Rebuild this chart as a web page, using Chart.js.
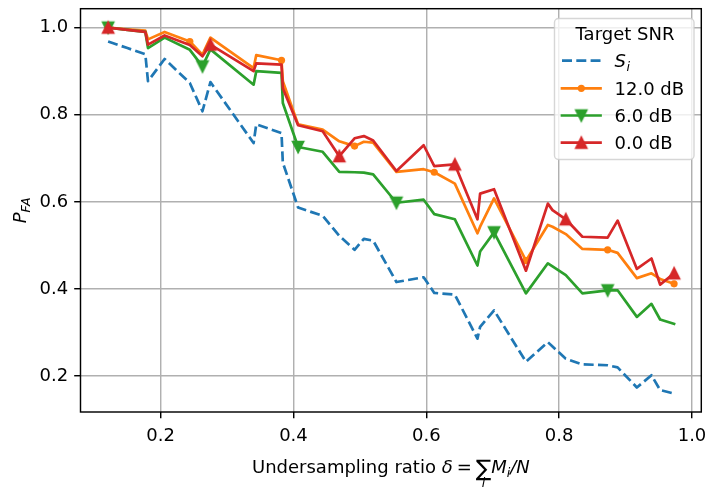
<!DOCTYPE html>
<html>
<head>
<meta charset="utf-8">
<script src="https://cdn.jsdelivr.net/npm/chart.js@4.4.1/dist/chart.umd.min.js"></script>
<style>
  html, body { margin: 0; padding: 0; background: #fff; }
</style>
</head>
<body>
<canvas id="pfaChart" width="710" height="488"></canvas>
<script>
// ── Dados ──────────────────────────────────────────────
const delta = [0.121, 0.150, 0.177, 0.181, 0.206, 0.244, 0.263, 0.275, 0.340, 0.344, 0.382, 0.384,
               0.407, 0.444, 0.469, 0.492, 0.506, 0.520, 0.555, 0.596, 0.612, 0.643, 0.677, 0.681,
               0.702, 0.750, 0.783, 0.790, 0.810, 0.835, 0.873, 0.888, 0.917, 0.939, 0.952, 0.973];
const pfaSi = [0.968, 0.953, 0.939, 0.877, 0.928, 0.873, 0.808, 0.875, 0.735, 0.778, 0.758, 0.690,
               0.587, 0.568, 0.522, 0.490, 0.515, 0.511, 0.416, 0.427, 0.391, 0.387, 0.286, 0.313,
               0.351, 0.233, 0.278, 0.268, 0.240, 0.227, 0.225, 0.220, 0.174, 0.202, 0.168, 0.160];
const pfa12 = [1.000, 0.996, 0.993, 0.973, 0.990, 0.968, 0.938, 0.977, 0.907, 0.937, 0.925, 0.877,
               0.778, 0.766, 0.739, 0.728, 0.738, 0.736, 0.669, 0.675, 0.668, 0.642, 0.528, 0.543,
               0.608, 0.465, 0.547, 0.543, 0.526, 0.492, 0.490, 0.483, 0.425, 0.436, 0.423, 0.412];
const pfa6  = [1.000, 0.995, 0.990, 0.953, 0.977, 0.949, 0.911, 0.950, 0.869, 0.900, 0.896, 0.827,
               0.726, 0.715, 0.669, 0.668, 0.667, 0.663, 0.598, 0.605, 0.572, 0.560, 0.454, 0.486,
               0.530, 0.390, 0.459, 0.452, 0.432, 0.390, 0.397, 0.397, 0.336, 0.366, 0.330, 0.320];
const pfa0  = [1.000, 0.995, 0.990, 0.961, 0.982, 0.960, 0.934, 0.961, 0.900, 0.918, 0.915, 0.861,
               0.776, 0.762, 0.705, 0.746, 0.751, 0.741, 0.671, 0.730, 0.682, 0.686, 0.560, 0.619,
               0.629, 0.442, 0.596, 0.581, 0.560, 0.520, 0.518, 0.557, 0.446, 0.470, 0.410, 0.436];
const snrLabels = ['12.0 dB', '6.0 dB', '0.0 dB'];
const xTicks = [0.2, 0.4, 0.6, 0.8, 1.0];
const yTicks = [0.2, 0.4, 0.6, 0.8, 1.0];

const FS = 18;
const FAM = '"DejaVu Sans", sans-serif';
const fN = s => `${s}px ${FAM}`;
const fI = s => `italic ${s}px ${FAM}`;
const C = { blue:'#1f77b4', orange:'#ff7f0e', green:'#2ca02c', red:'#d62728' };

// triângulos no estilo do matplotlib (largura = altura)
function triImg(color, down) {
  const s = 18, c = document.createElement('canvas');
  c.width = s; c.height = s;
  const g = c.getContext('2d'), m = s / 2, h = 5.4;
  g.beginPath();
  if (down) { g.moveTo(m, m + h); g.lineTo(m - h, m - h); g.lineTo(m + h, m - h); }
  else      { g.moveTo(m, m - h); g.lineTo(m - h, m + h); g.lineTo(m + h, m + h); }
  g.closePath();
  g.fillStyle = color; g.fill();
  g.lineWidth = 1.8; g.lineJoin = 'miter'; g.strokeStyle = color; g.stroke();
  return c;
}
const triDown = triImg(C.green, true);
const triUp   = triImg(C.red, false);

const pts = ys => delta.map((x, i) => ({ x, y: ys[i] }));
const every = (n, r) => ctx => ctx.dataIndex % n === 0 ? r : 0;

// ── Legenda, moldura e títulos dos eixos ───────────────
function drawLegend(ctx, chart) {
  const x0 = 554.5, y0 = 18.5, w = 139.5, h = 141, r = 4;
  ctx.beginPath();
  ctx.moveTo(x0 + r, y0); ctx.arcTo(x0 + w, y0, x0 + w, y0 + h, r);
  ctx.arcTo(x0 + w, y0 + h, x0, y0 + h, r); ctx.arcTo(x0, y0 + h, x0, y0, r);
  ctx.arcTo(x0, y0, x0 + w, y0, r); ctx.closePath();
  ctx.fillStyle = 'rgba(255,255,255,0.8)'; ctx.fill();
  ctx.lineWidth = 1.4; ctx.strokeStyle = 'rgba(204,204,204,0.8)'; ctx.stroke();

  ctx.fillStyle = '#000'; ctx.textAlign = 'center'; ctx.textBaseline = 'alphabetic';
  ctx.font = fN(FS); ctx.fillText('Target SNR', 625, 39.5);

  const rows = [60.7, 88.3, 115.5, 142.7];
  const ds = chart.data.datasets;
  rows.forEach((ry, i) => {
    const d = ds[i];
    ctx.save();
    ctx.beginPath(); ctx.setLineDash(d.borderDash || []);
    ctx.lineWidth = d.borderWidth; ctx.strokeStyle = d.borderColor; ctx.lineCap = d.borderCapStyle;
    ctx.moveTo(562, ry); ctx.lineTo(600.5, ry); ctx.stroke();
    ctx.restore();
    if (i === 1) { ctx.beginPath(); ctx.arc(581.3, ry, 3.6, 0, Math.PI * 2); ctx.fillStyle = C.orange; ctx.fill(); }
    if (i === 2) ctx.drawImage(triDown, 581.3 - 9, ry - 9);
    if (i === 3) ctx.drawImage(triUp, 581.3 - 9, ry - 9);
    ctx.fillStyle = '#000'; ctx.textAlign = 'left';
    if (i === 0) {
      ctx.font = fI(FS); ctx.fillText('S', 614.5, ry + 6.5);
      const sw = ctx.measureText('S').width;
      ctx.font = fI(12.6); ctx.fillText('i', 614.5 + sw + 0.5, ry + 10.5);
    } else {
      ctx.font = fN(FS); ctx.fillText(snrLabels[i - 1], 614.5, ry + 6.5);
    }
  });
}

function drawTitles(ctx, chart) {
  const a = chart.chartArea;
  ctx.fillStyle = '#000'; ctx.textAlign = 'left'; ctx.textBaseline = 'alphabetic';
  // eixo x: Undersampling ratio δ = Σ_i M_i / N
  const base = 473;
  const parts = [
    { t: 'Undersampling ratio ', f: fN(FS) },
    { t: 'δ', f: fI(FS) },
    { gap: 4 }, { t: '=', f: fN(FS) }, { gap: 4 },
    { t: '∑', f: fN(23), sum: true, dy: 3 },
    { t: 'M', f: fI(FS) },
    { t: 'i', f: fI(12.6), dy: 4 },
    { t: '/N', f: fI(FS) },
  ];
  let total = 0;
  parts.forEach(p => { if (p.gap) { p.w = p.gap; } else { ctx.font = p.f; p.w = ctx.measureText(p.t).width; } total += p.w; });
  let x = (a.left + a.right) / 2 - total / 2;
  parts.forEach(p => {
    if (!p.gap) {
      ctx.font = p.f; ctx.fillText(p.t, x, base + (p.dy || 0));
      if (p.sum) { ctx.font = fI(12.6); ctx.textAlign = 'center'; ctx.fillText('i', x + p.w / 2, base + 14); ctx.textAlign = 'left'; }
    }
    x += p.w;
  });
  // eixo y: P_FA
  ctx.save();
  ctx.translate(26, (a.top + a.bottom) / 2);
  ctx.rotate(-Math.PI / 2);
  ctx.font = fI(FS); const pw = ctx.measureText('P').width;
  ctx.font = fI(12.6); const fw = ctx.measureText('FA').width;
  const sx = -(pw + fw) / 2;
  ctx.font = fI(FS); ctx.fillText('P', sx, 0);
  ctx.font = fI(12.6); ctx.fillText('FA', sx + pw, 4);
  ctx.restore();
}

const decor = {
  id: 'decor',
  afterDatasetsDraw(chart) {
    const { ctx, chartArea: a } = chart;
    ctx.save();
    ctx.lineWidth = 1.44; ctx.strokeStyle = '#000';
    ctx.strokeRect(a.left, a.top, a.right - a.left, a.bottom - a.top);
    drawLegend(ctx, chart);
    drawTitles(ctx, chart);
    ctx.restore();
  }
};

const tickFmt = v => Number(v).toFixed(1);
const noPad = s => { s.paddingTop = 0; s.paddingBottom = 0; s.paddingLeft = 0; s.paddingRight = 0; };

new Chart(document.getElementById('pfaChart'), {
  type: 'line',
  data: {
    datasets: [
      { label: 'S_i', data: pts(pfaSi), order: 3, borderColor: C.blue, borderWidth: 2.7,
        borderDash: [10, 4.3], borderCapStyle: 'butt', borderJoinStyle: 'round', pointRadius: 0 },
      { label: snrLabels[0], data: pts(pfa12), order: 2, borderColor: C.orange, borderWidth: 2.7,
        borderCapStyle: 'square', borderJoinStyle: 'round', pointStyle: 'circle',
        pointRadius: every(5, 3.6), pointBackgroundColor: C.orange, pointBorderWidth: 0 },
      { label: snrLabels[1], data: pts(pfa6), order: 1, borderColor: C.green, borderWidth: 2.7,
        borderCapStyle: 'square', borderJoinStyle: 'round', pointStyle: triDown,
        pointRadius: every(6, 6) },
      { label: snrLabels[2], data: pts(pfa0), order: 0, borderColor: C.red, borderWidth: 2.7,
        borderCapStyle: 'square', borderJoinStyle: 'round', pointStyle: triUp,
        pointRadius: every(7, 6) },
    ],
  },
  options: {
    responsive: false, animation: false, devicePixelRatio: 1,
    layout: { padding: { left: 0, right: 8, top: 7, bottom: 0 } },
    plugins: { legend: { display: false }, tooltip: { enabled: false } },
    scales: {
      x: {
        type: 'linear', min: 0.0794, max: 1.014,
        afterBuildTicks: s => { s.ticks = xTicks.map(v => ({ value: v })); },
        afterFit: s => { s.height = 76; noPad(s); },
        grid: { color: '#b0b0b0', lineWidth: 1.44, drawTicks: true, tickLength: 6.3, tickColor: '#000', tickWidth: 1.44 },
        border: { display: false },
        ticks: { color: '#000', font: { family: FAM, size: FS }, padding: 7, maxRotation: 0, callback: tickFmt },
      },
      y: {
        type: 'linear', min: 0.1177, max: 1.0434,
        afterBuildTicks: s => { s.ticks = yTicks.map(v => ({ value: v })); },
        afterFit: s => { s.width = 80.5; noPad(s); },
        grid: { color: '#b0b0b0', lineWidth: 1.44, drawTicks: true, tickLength: 6.3, tickColor: '#000', tickWidth: 1.44 },
        border: { display: false },
        ticks: { color: '#000', font: { family: FAM, size: FS }, padding: 6, callback: tickFmt },
      },
    },
  },
  plugins: [decor],
});
</script>
</body>
</html>
